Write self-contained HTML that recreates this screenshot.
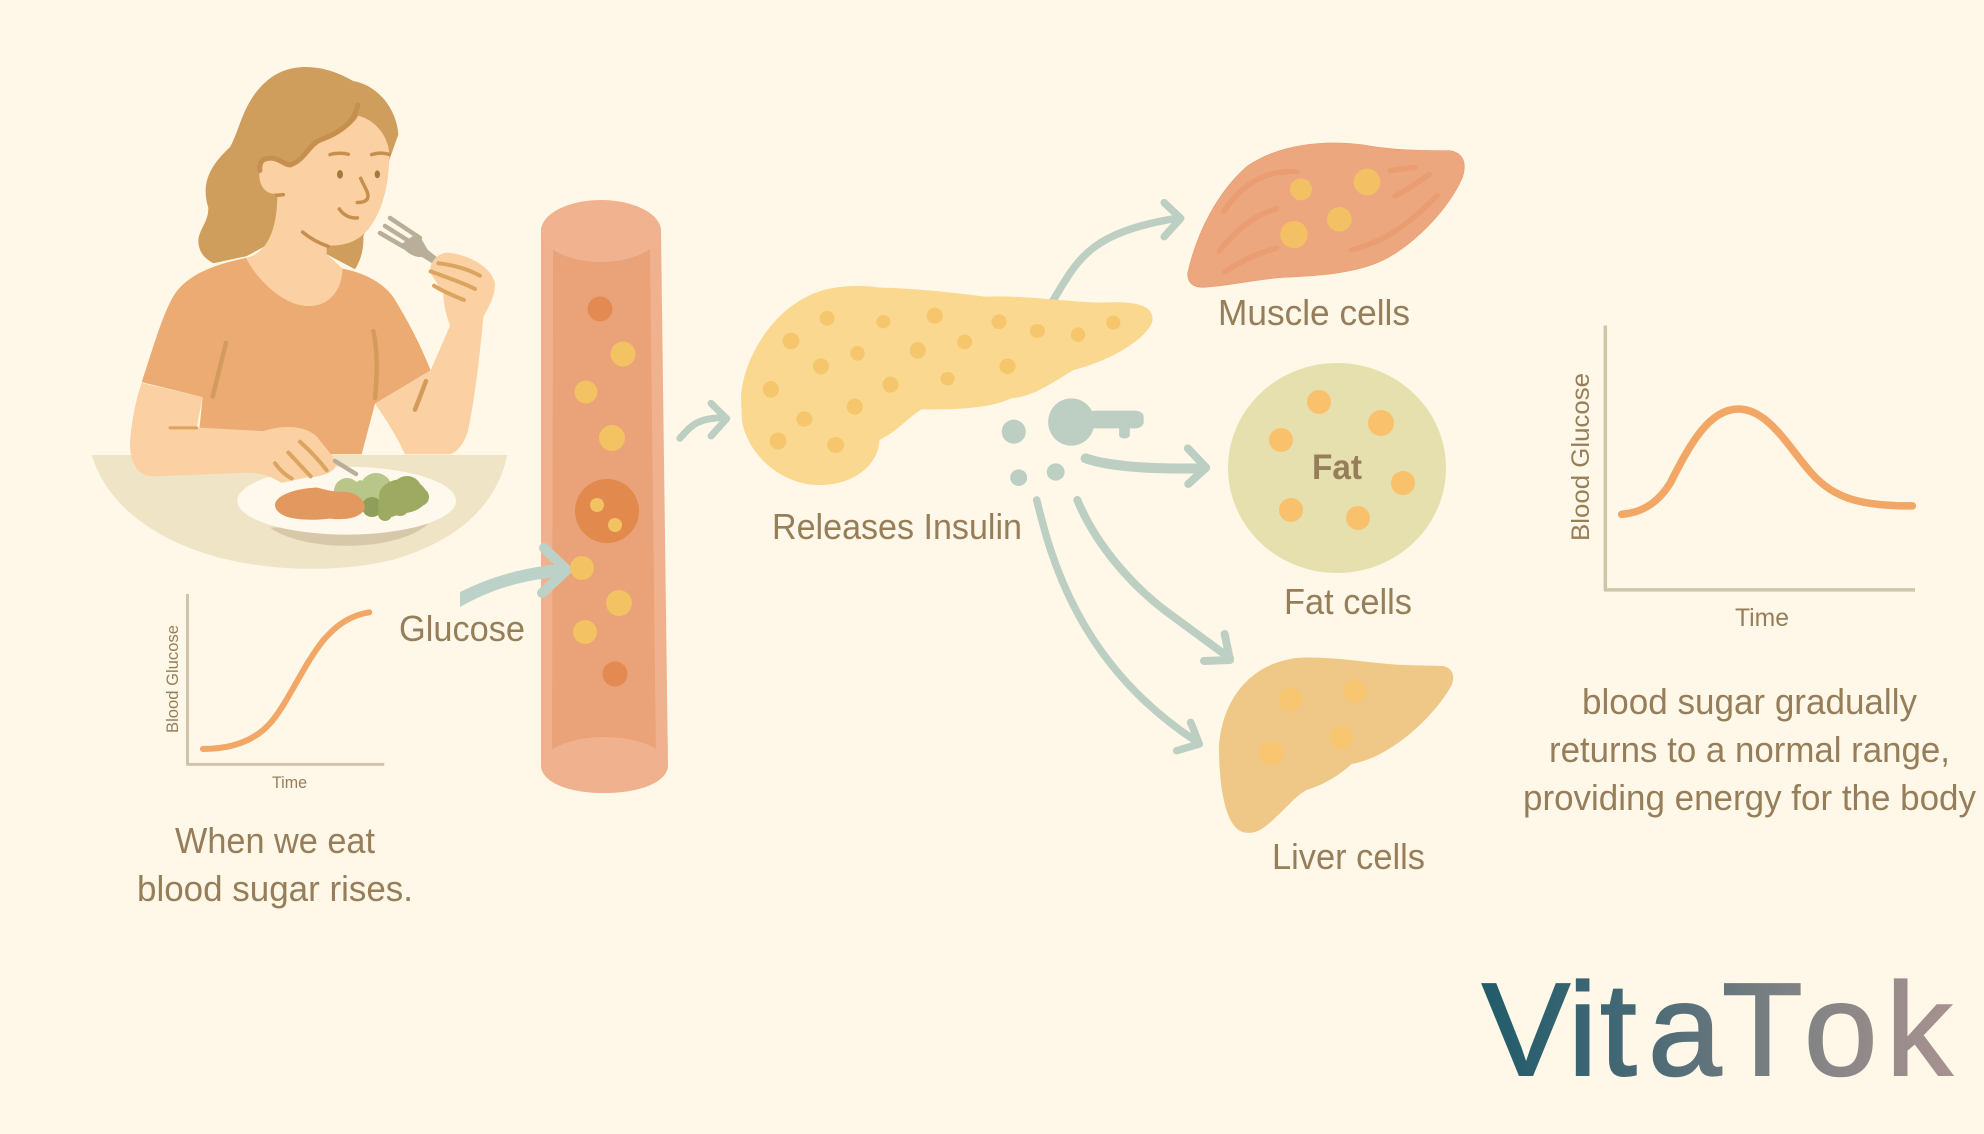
<!DOCTYPE html>
<html><head><meta charset="utf-8"><style>
html,body{margin:0;padding:0;background:#fff8e8;width:1984px;height:1134px;overflow:hidden}
svg{display:block}
text{font-family:"Liberation Sans",sans-serif;fill:#967e5a}
.n{vector-effect:non-scaling-stroke;fill:none;stroke-linecap:round;stroke-linejoin:round}
</style></head><body>
<svg width="1984" height="1134" viewBox="0 0 1984 1134" xmlns="http://www.w3.org/2000/svg">
<defs><linearGradient id="vt" gradientUnits="userSpaceOnUse" x1="1482" y1="0" x2="1953" y2="0">
<stop offset="0" stop-color="#205c6b"/><stop offset=".35" stop-color="#4a6a76"/><stop offset=".62" stop-color="#7a8082"/><stop offset="1" stop-color="#a89290"/></linearGradient></defs>
<rect width="1984" height="1134" fill="#fff8e8"/>

<!-- person -->
<g transform="translate(60 40) scale(.33333 .35714)">
<path fill="#f0e4c6" d="M95 1162L1342 1162C1310 1300 1200 1400 1000 1455C850 1490 650 1490 480 1450C280 1400 140 1300 95 1162Z"/>
<path fill="#d6c8a8" d="M630 1365C720 1430 1000 1440 1105 1355Z"/>
<ellipse cx="860" cy="1290" rx="328" ry="95" fill="#fef9ec"/>
<path fill="#cf9e5c" d="M415 560C420 525 445 510 445 470C425 410 440 360 510 300C540 250 550 170 620 115C680 65 780 60 880 115C950 125 1010 190 1015 265L990 330L910 550C912 590 900 620 885 642L800 600L650 560L560 605L460 625C430 610 415 590 415 560Z"/>
<path fill="#ebab72" d="M245 958C280 860 310 760 345 710C390 650 480 625 558 610L848 640C900 650 960 670 1000 720C1040 780 1080 850 1112 925L945 1018L905 1160L410 1160L428 1000Z"/>
<path fill="#fbd0a3" d="M895 212C950 225 990 275 988 330C985 420 965 480 925 530C890 570 840 578 800 575L800 600L848 640C845 700 810 745 745 745C670 745 590 670 558 610C610 600 650 550 652 440L640 350C700 355 730 330 760 290C830 270 880 240 895 212Z"/>
<ellipse cx="640" cy="380" rx="42" ry="50" fill="#fbd0a3"/>
<path fill="#fbd0a3" d="M245 960L428 1000L410 1085L610 1095C660 1080 730 1075 770 1110L830 1180C835 1210 780 1225 740 1225L665 1240C620 1215 590 1210 550 1212L280 1222C230 1220 210 1180 210 1130C215 1060 230 1000 245 960Z"/>
</g>
<!-- fork -->
<g>
<path class="n" stroke="#b9ae9a" stroke-width="4.5" d="M390 218L420 238M385 226L412 243M380 233L404 247"/>
<path fill="#b9ae9a" d="M417 233C423 240 425 246 428 250L438 258L433 264L422 257C414 258 406 252 400 245Z"/>
</g>
<g transform="translate(60 40) scale(.33333 .35714)">
<path fill="#fbd0a3" d="M945 1018L1112 925L1170 800C1155 760 1150 730 1150 710L1110 650C1110 620 1130 600 1160 595C1220 600 1290 630 1305 680C1305 720 1285 750 1270 775C1260 880 1245 1000 1225 1090C1215 1130 1190 1155 1170 1160L1035 1160C1005 1100 975 1060 945 1018Z"/>
<g stroke="#c68f4e">
<path class="n" stroke-width="5" d="M893 182C885 230 840 260 780 280C745 295 735 335 690 350C670 350 650 320 610 335C600 340 598 360 600 365"/>
<path class="n" stroke-width="3.5" d="M810 321C825 316 850 316 865 320M935 321C950 316 970 316 987 320M902 387C912 410 930 430 922 445C915 455 900 455 892 455M838 473C850 490 870 500 892 498M728 538C750 555 780 570 805 578M650 435L670 433"/>
</g>
<ellipse cx="840" cy="376" rx="9" ry="12" fill="#a9773b"/><ellipse cx="952" cy="376" rx="8" ry="11" fill="#a9773b"/>
<g stroke="#dba45f">
<path class="n" stroke-width="4" d="M1135 625C1180 630 1225 642 1260 660M1112 648C1160 665 1205 678 1245 697M1122 688C1150 705 1185 718 1212 728"/>
<path class="n" stroke-width="4" d="M720 1125C750 1150 780 1180 800 1205M685 1155C710 1180 735 1205 752 1222M645 1185C660 1205 680 1220 695 1228"/>
<path class="n" stroke-width="4.5" stroke="#d49c5c" d="M498 848L458 998M940 815C955 880 950 950 945 1003M1098 955L1065 1035"/>
<path class="n" stroke-width="3" d="M330 1086L410 1086"/>
</g>
</g>
<path class="n" stroke="#b9ae9a" stroke-width="4.5" d="M335 461L356 474"/>
<!-- veg -->
<g fill="#b9c68a"><circle cx="347" cy="491" r="13"/><circle cx="376" cy="489" r="16"/><path d="M336 493L360 480L392 490L390 505L365 506L340 500Z"/></g>
<g fill="#8f9e58"><circle cx="372" cy="507" r="10"/></g>
<g fill="#9eaa62"><ellipse cx="403" cy="496" rx="24" ry="17"/><circle cx="407" cy="491" r="15"/><circle cx="420" cy="497" r="9"/><circle cx="390" cy="505" r="12"/><circle cx="385" cy="514" r="7"/><circle cx="400" cy="507" r="9"/></g>
<g transform="translate(60 40) scale(.33333 .35714)">
<path fill="#e3985f" d="M645 1300C650 1270 720 1255 770 1253C800 1260 820 1265 850 1265C890 1265 915 1290 915 1310C905 1340 850 1345 810 1340C760 1345 720 1345 680 1335C655 1325 645 1315 645 1300Z"/>
</g>

<!-- vessel -->
<path fill="#f0b28e" d="M541 231C541 215 570 201 601 201C632 201 661 215 661 231L668 765C668 782 640 793 604 793C568 793 541 782 541 765Z"/>
<path fill="#eaa278" d="M553 248L650 248L656 760L552 760Z"/>
<ellipse cx="601" cy="231" rx="60" ry="31" fill="#f1b28f"/>
<path fill="#f0b28e" d="M541 765C541 750 570 737 604 737C640 737 668 750 668 765C668 782 640 793 604 793C568 793 541 782 541 765Z"/>
<circle cx="600" cy="309" r="12.5" fill="#e28a52"/>
<circle cx="623" cy="354" r="12.5" fill="#f3c263"/><circle cx="586" cy="392" r="11.5" fill="#f3c263"/><circle cx="612" cy="438" r="13" fill="#f3c263"/>
<circle cx="607" cy="511" r="32" fill="#e28a4e"/><circle cx="597" cy="505" r="7" fill="#f3c263"/><circle cx="615" cy="525" r="7" fill="#f3c263"/>
<circle cx="619" cy="603" r="13" fill="#f3c263"/><circle cx="585" cy="632" r="12" fill="#f3c263"/><circle cx="615" cy="674" r="12.5" fill="#e28a52"/>

<!-- glucose arrow -->
<path fill="#bcd2c8" d="M460 592C490 577 520 568 566 563L566 576C520 580 490 590 460 607Z"/>
<path class="n" stroke="#bcd2c8" stroke-width="10" d="M544 548L567 570L542 593"/>
<circle cx="582" cy="568" r="12" fill="#f3c263"/>

<!-- pancreas group -->
<g transform="translate(520 180) scale(.44643 .33333)">
<g stroke="#bccfc2">
<path class="n" stroke-width="7.5" d="M1190 370C1250 240 1270 160 1470 115M1443 68L1480 115L1443 170"/>
<path class="n" stroke-width="7" d="M358 775C385 735 395 715 460 712M428 670L463 716L428 768"/>
<path class="n" stroke-width="10" d="M1267 835C1320 860 1420 868 1530 865"/>
<path class="n" stroke-width="8" d="M1496 805L1537 863L1497 912"/>
</g>
<path fill="#fad88f" d="M495 650C500 540 560 400 650 345C690 320 750 312 800 322C870 325 960 335 1040 350C1130 345 1220 365 1300 368C1380 362 1418 375 1417 420C1410 470 1330 540 1240 570C1190 610 1150 650 1100 655C1060 680 1000 690 900 688C870 710 850 750 805 780C805 840 760 915 670 915C590 915 510 830 497 720Z"/>
<g fill="#f6c66c">
<ellipse cx="688" cy="415" rx="17" ry="22"/><ellipse cx="814" cy="425" rx="16" ry="20"/><ellipse cx="929" cy="407" rx="18" ry="24"/><ellipse cx="1073" cy="425" rx="17" ry="22"/><ellipse cx="1159" cy="453" rx="17" ry="21"/><ellipse cx="1250" cy="464" rx="16" ry="22"/><ellipse cx="1329" cy="428" rx="16" ry="21"/><ellipse cx="607" cy="483" rx="19" ry="25"/><ellipse cx="756" cy="520" rx="16" ry="22"/><ellipse cx="891" cy="511" rx="18" ry="25"/><ellipse cx="996" cy="486" rx="17" ry="22"/><ellipse cx="674" cy="559" rx="18" ry="24"/><ellipse cx="1092" cy="559" rx="18" ry="23"/><ellipse cx="958" cy="596" rx="16" ry="20"/><ellipse cx="830" cy="614" rx="18" ry="24"/><ellipse cx="562" cy="628" rx="18" ry="25"/><ellipse cx="637" cy="717" rx="18" ry="23"/><ellipse cx="750" cy="680" rx="18" ry="24"/><ellipse cx="578" cy="783" rx="19" ry="25"/><ellipse cx="707" cy="795" rx="19" ry="24"/>
</g>
<g fill="#bccfc2">
<ellipse cx="1106" cy="755" rx="27" ry="36"/><ellipse cx="1117" cy="893" rx="19" ry="25"/><ellipse cx="1200" cy="876" rx="20" ry="26"/>
<ellipse cx="1235" cy="726" rx="52" ry="71"/><rect x="1270" y="692" width="127" height="53" rx="20" ry="18"/><rect x="1342" y="735" width="24" height="40" rx="10" ry="10"/>
</g>
</g>

<!-- muscle -->
<g transform="translate(1150 120) scale(.33333)">
<path fill="#eda77e" stroke="#e89b70" stroke-width="2" d="M113 460C140 340 200 220 290 140C390 70 530 60 640 75C720 90 800 92 900 92C940 98 950 130 938 170C900 260 800 370 700 420C620 460 500 468 400 472C320 478 220 500 160 502C130 502 113 490 113 460Z"/>
<path class="n" stroke="#ea9d70" stroke-width="5.5" d="M222 274C270 200 340 150 440 155M208 393C260 330 310 285 380 266M225 455C270 425 320 400 380 384M605 390C700 365 770 320 862 226M735 228C770 210 800 190 838 163M720 152L795 142"/>
<g fill="#f3c064"><circle cx="453" cy="208" r="33"/><circle cx="651" cy="186" r="40"/><circle cx="568" cy="298" r="37"/><circle cx="432" cy="344" r="41"/></g>
</g>

<!-- fat -->
<ellipse cx="1337" cy="468" rx="109" ry="105" fill="#e5e0ad"/>
<g fill="#f9c16c"><circle cx="1319" cy="402" r="12"/><circle cx="1381" cy="423" r="13"/><circle cx="1281" cy="440" r="12"/><circle cx="1403" cy="483" r="12"/><circle cx="1291" cy="510" r="12"/><circle cx="1358" cy="518" r="12"/></g>
<text x="1312" y="479" font-size="35" font-weight="700" textLength="50" lengthAdjust="spacingAndGlyphs">Fat</text>

<!-- liver and arrows -->
<g transform="translate(1000 480) scale(.33333)">
<g stroke="#bccfc2">
<path class="n" stroke-width="8" d="M232 60C290 200 400 320 500 395L690 535"/>
<path class="n" stroke-width="8" d="M674 462L690 540L612 543"/>
<path class="n" stroke-width="7.5" d="M110 60C150 220 230 550 590 785"/>
<path class="n" stroke-width="7.5" d="M572 727L598 792L530 812"/>
</g>
<path fill="#efc888" d="M657 800C665 680 730 560 880 535C980 525 1100 550 1210 555L1330 558C1360 565 1365 590 1355 615C1310 700 1180 830 1055 852C1020 885 970 915 920 930C880 950 830 1020 780 1050C750 1065 720 1060 705 1040C670 1000 657 900 657 800Z"/>
<g fill="#f8c670"><circle cx="872" cy="658" r="36"/><circle cx="1065" cy="634" r="35"/><circle cx="1024" cy="773" r="36"/><circle cx="814" cy="820" r="36"/></g>
</g>

<!-- graph 1 -->
<g transform="translate(120 560) scale(.35714 .33333)">
<path class="n" stroke="#cfc5ab" stroke-width="3" style="stroke-linecap:butt" d="M189 102L189 613L740 613"/>
<path class="n" stroke="#f2a766" stroke-width="6" d="M232 567C300 567 370 550 420 490C470 430 510 320 570 240C610 190 650 165 698 157"/>
</g>
<!-- graph 2 -->
<g transform="translate(1480 300) scale(.33333 .53191)">
<path class="n" stroke="#cfc5ab" stroke-width="3.5" style="stroke-linecap:butt" d="M376 48L376 545L1305 545"/>
<path class="n" stroke="#f2a766" stroke-width="7.5" d="M425 403C480 400 530 385 570 345C620 285 680 205 775 205C860 205 920 270 980 315C1050 370 1130 388 1297 387"/>
</g>

<!-- labels -->
<g font-size="36">
<text x="1218" y="325" textLength="192" lengthAdjust="spacingAndGlyphs">Muscle cells</text>
<text x="1284" y="614" textLength="128" lengthAdjust="spacingAndGlyphs">Fat cells</text>
<text x="1272" y="869" textLength="153" lengthAdjust="spacingAndGlyphs">Liver cells</text>
<text x="772" y="539" textLength="250" lengthAdjust="spacingAndGlyphs">Releases Insulin</text>
<text x="399" y="641" textLength="126" lengthAdjust="spacingAndGlyphs">Glucose</text>
<text x="175" y="853" textLength="200" lengthAdjust="spacingAndGlyphs">When we eat</text>
<text x="137" y="901" textLength="276" lengthAdjust="spacingAndGlyphs">blood sugar rises.</text>
<text x="1582" y="714" textLength="335" lengthAdjust="spacingAndGlyphs">blood sugar gradually</text>
<text x="1549" y="762" textLength="401" lengthAdjust="spacingAndGlyphs">returns to a normal range,</text>
<text x="1523" y="810" textLength="453" lengthAdjust="spacingAndGlyphs">providing energy for the body</text>
</g>
<text x="272" y="788" font-size="17" textLength="35" lengthAdjust="spacingAndGlyphs">Time</text>
<text transform="translate(178 733) rotate(-90)" font-size="17" textLength="108" lengthAdjust="spacingAndGlyphs">Blood Glucose</text>
<text x="1735" y="626" font-size="25" textLength="54" lengthAdjust="spacingAndGlyphs">Time</text>
<text transform="translate(1589 541) rotate(-90)" font-size="25" textLength="168" lengthAdjust="spacingAndGlyphs">Blood Glucose</text>
<text y="1075" font-size="132" style="fill:url(#vt);stroke:url(#vt);stroke-width:2"><tspan x="1482">V</tspan><tspan x="1568">i</tspan><tspan x="1600">t</tspan><tspan x="1648">a</tspan><tspan x="1722">T</tspan><tspan x="1804">o</tspan><tspan x="1886">k</tspan></text>
</svg>
</body></html>
